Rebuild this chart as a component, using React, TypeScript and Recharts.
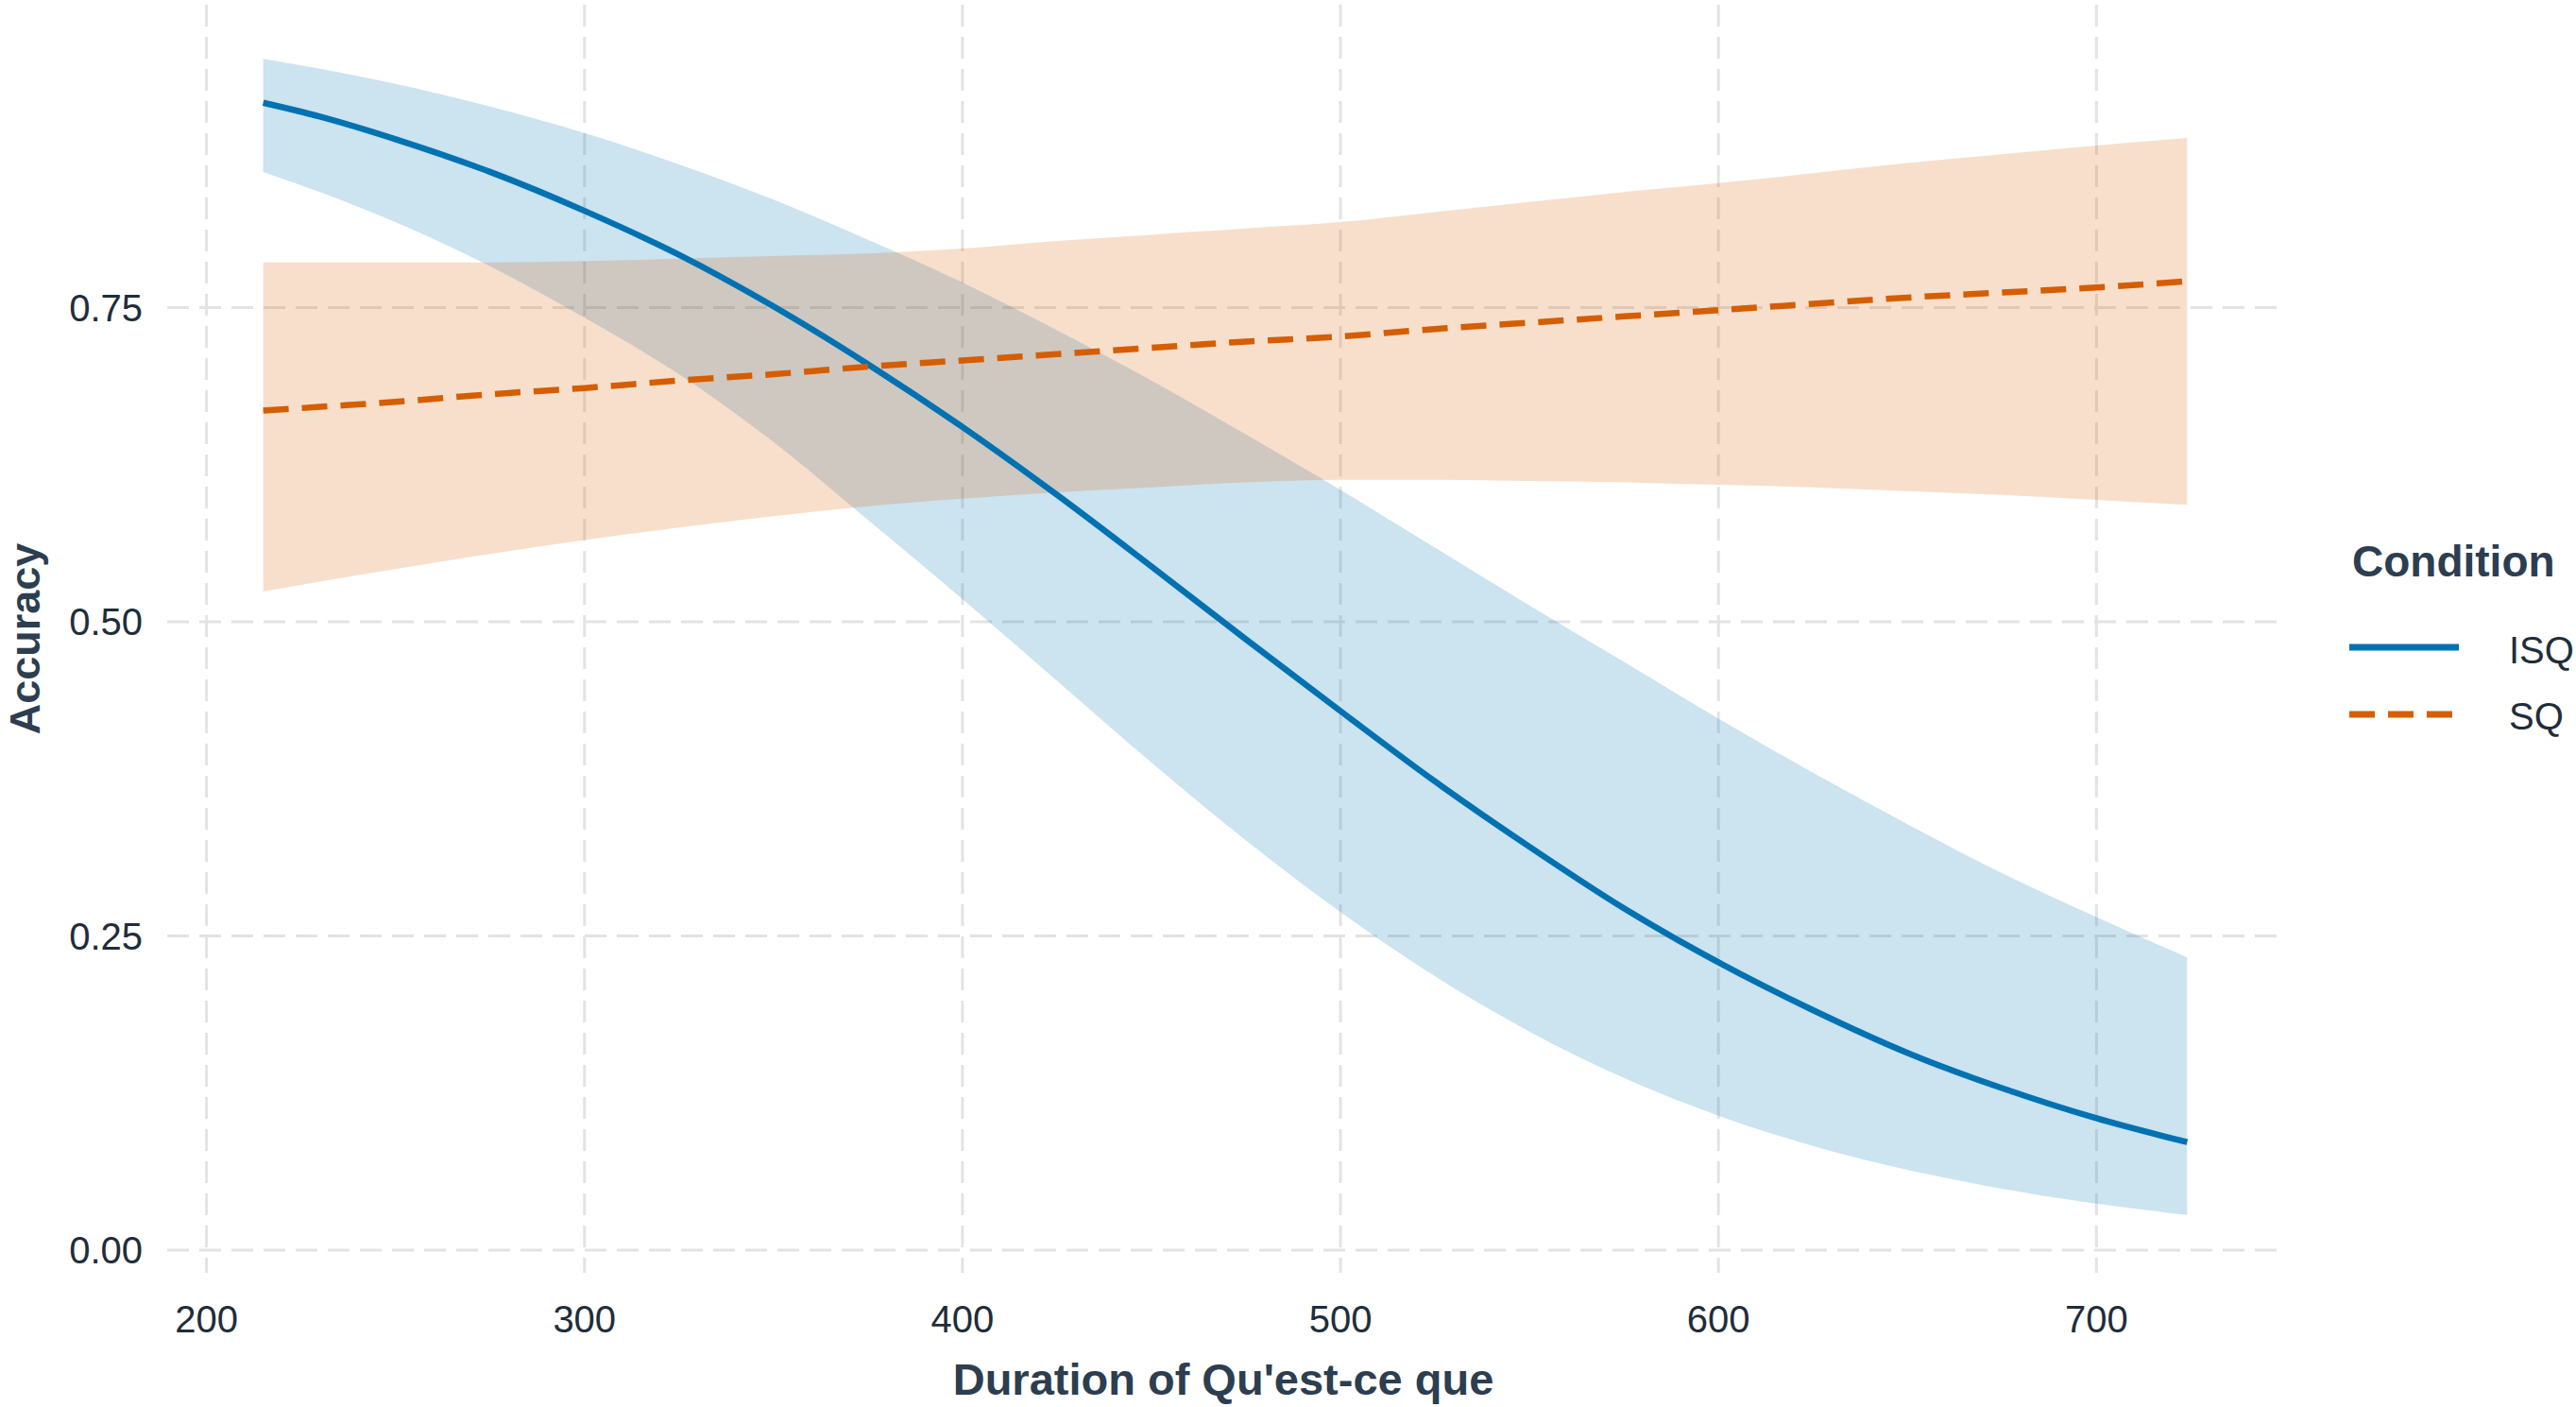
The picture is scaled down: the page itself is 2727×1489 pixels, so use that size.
import {
  Area,
  CartesianGrid,
  ComposedChart,
  Line,
  XAxis,
  YAxis,
} from "recharts";

// Duration of "Qu'est-ce que" (ms) at which the fitted curves were read
const durations = [
  215, 230, 250, 275, 300, 325, 350, 375, 400, 425, 450, 475, 500, 525, 550,
  575, 600, 625, 650, 675, 700, 724,
];

// ISQ condition: fitted accuracy and confidence band
const isqFit = [
  0.913, 0.902, 0.884, 0.858, 0.827, 0.792, 0.751, 0.705, 0.655, 0.601, 0.544,
  0.486, 0.429, 0.373, 0.321, 0.272, 0.229, 0.191, 0.157, 0.129, 0.105, 0.086,
];
const isqLower = [
  0.858, 0.842, 0.818, 0.783, 0.742, 0.697, 0.643, 0.581, 0.518, 0.453, 0.388,
  0.326, 0.269, 0.218, 0.174, 0.137, 0.107, 0.083, 0.064, 0.049, 0.037, 0.028,
];
const isqUpper = [
  0.948, 0.94, 0.928, 0.91, 0.889, 0.864, 0.836, 0.804, 0.77, 0.732, 0.692,
  0.649, 0.605, 0.559, 0.513, 0.468, 0.423, 0.38, 0.339, 0.3, 0.265, 0.233,
];

// SQ condition: fitted accuracy and confidence band
const sqFit = [
  0.668, 0.671, 0.675, 0.681, 0.686, 0.692, 0.697, 0.703, 0.708, 0.713, 0.718,
  0.723, 0.727, 0.733, 0.738, 0.743, 0.748, 0.753, 0.758, 0.762, 0.766, 0.771,
];
const sqLower = [
  0.524, 0.532, 0.542, 0.554, 0.565, 0.575, 0.584, 0.592, 0.598, 0.603, 0.607,
  0.611, 0.613, 0.613, 0.612, 0.611, 0.609, 0.607, 0.604, 0.601, 0.597, 0.593,
];
const sqUpper = [
  0.786, 0.786, 0.786, 0.786, 0.787, 0.789, 0.791, 0.793, 0.797, 0.803, 0.808,
  0.813, 0.818, 0.826, 0.834, 0.842, 0.849, 0.857, 0.865, 0.872, 0.879, 0.885,
];

const xTicks = [200, 300, 400, 500, 600, 700];
const yTicks = [0, 0.25, 0.5, 0.75];
const conditions = ["ISQ", "SQ"];

const BLUE = "#0072B2";
const ORANGE = "#D55E00";
const TEXT = "#2C3E50";
const TICK = "#1F2D3A";
const FONT = "'Liberation Sans', Arial, sans-serif";

const rows = durations.map((duration, i) => ({
  duration,
  isqFit: isqFit[i],
  isqBand: [isqLower[i], isqUpper[i]],
  sqFit: sqFit[i],
  sqBand: [sqLower[i], sqUpper[i]],
}));

const XTitle = ({ viewBox }: any) => (
  <text
    x={viewBox.x + viewBox.width / 2}
    y={1476}
    textAnchor="middle"
    fontFamily={FONT}
    fontWeight="bold"
    fontSize={47}
    fill={TEXT}
  >
    Duration of Qu'est-ce que
  </text>
);

const YTitle = ({ viewBox }: any) => {
  const cy = viewBox.y + viewBox.height / 2;
  return (
    <text
      x={42}
      y={cy}
      transform={`rotate(-90 42 ${cy})`}
      textAnchor="middle"
      fontFamily={FONT}
      fontWeight="bold"
      fontSize={45}
      fill={TEXT}
    >
      Accuracy
    </text>
  );
};

function ConditionLegend() {
  return (
    <svg
      width={2727}
      height={1489}
      style={{ position: "absolute", left: 0, top: 0, pointerEvents: "none" }}
    >
      <text
        x={2490}
        y={610}
        fontFamily={FONT}
        fontWeight="bold"
        fontSize={46}
        fill={TEXT}
      >
        Condition
      </text>
      {conditions.map((name, i) => (
        <g key={name}>
          <line
            x1={2487}
            x2={2603}
            y1={685 + i * 71}
            y2={685 + i * 71}
            stroke={i === 0 ? BLUE : ORANGE}
            strokeWidth={7}
            strokeDasharray={i === 0 ? undefined : "27 14"}
          />
          <text
            x={2656}
            y={702 + i * 70}
            fontFamily={FONT}
            fontSize={40}
            fill={TICK}
          >
            {name}
          </text>
        </g>
      ))}
    </svg>
  );
}

export default function App() {
  const tickStyle = { fontFamily: FONT, fontSize: 40, fill: TICK };
  return (
    <div
      style={{
        position: "absolute",
        left: 0,
        top: 0,
        width: 2727,
        height: 1489,
        background: "#fff",
      }}
    >
      <ComposedChart
        width={2727}
        height={1489}
        data={rows}
        margin={{ top: 5, right: 314, bottom: 0, left: 0 }}
      >
        <CartesianGrid
          stroke="#e3e3e3"
          strokeWidth={3}
          strokeDasharray="23 11"
          horizontalValues={yTicks}
          verticalValues={xTicks}
        />
        <XAxis
          type="number"
          dataKey="duration"
          domain={[189.6, 748.4]}
          ticks={xTicks}
          allowDataOverflow
          axisLine={false}
          tickLine={false}
          tickSize={0}
          tickMargin={35}
          height={142}
          tick={tickStyle}
          label={<XTitle />}
        />
        <YAxis
          type="number"
          domain={[-0.018, 0.991]}
          ticks={yTicks}
          allowDataOverflow
          axisLine={false}
          tickLine={false}
          tickSize={0}
          tickMargin={26}
          width={177}
          tick={tickStyle}
          tickFormatter={(v: number) => v.toFixed(2)}
          label={<YTitle />}
        />
        <Area
          type="monotone"
          dataKey="isqBand"
          fill={BLUE}
          fillOpacity={0.2}
          stroke="none"
          dot={false}
          activeDot={false}
          isAnimationActive={false}
        />
        <Area
          type="monotone"
          dataKey="sqBand"
          fill={ORANGE}
          fillOpacity={0.2}
          stroke="none"
          dot={false}
          activeDot={false}
          isAnimationActive={false}
        />
        <Line
          type="monotone"
          dataKey="isqFit"
          stroke={BLUE}
          strokeWidth={6.5}
          dot={false}
          activeDot={false}
          isAnimationActive={false}
        />
        <Line
          type="monotone"
          dataKey="sqFit"
          stroke={ORANGE}
          strokeWidth={6.5}
          strokeDasharray="27 14"
          dot={false}
          activeDot={false}
          isAnimationActive={false}
        />
      </ComposedChart>
      <ConditionLegend />
    </div>
  );
}
